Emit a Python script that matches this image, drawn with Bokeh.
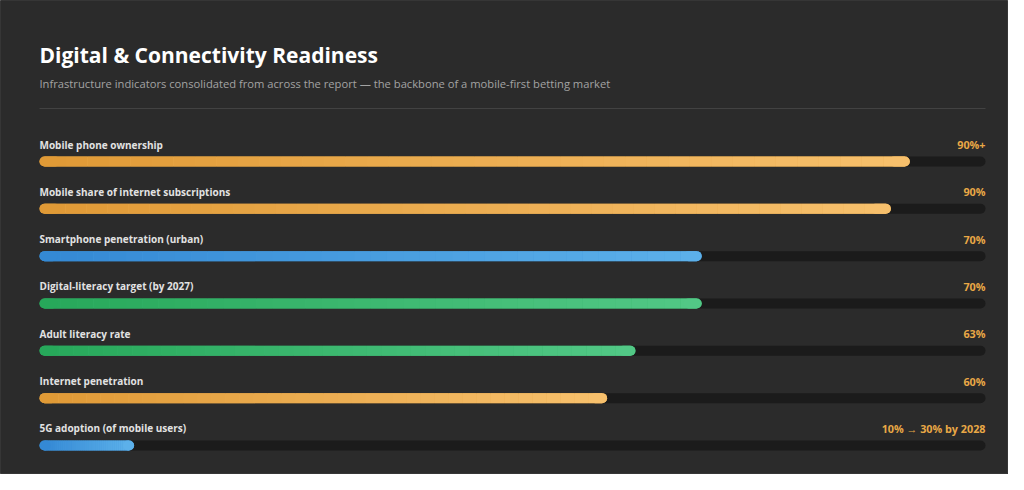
from bokeh.plotting import figure
from bokeh.models import ColumnDataSource, Range1d, Label
from bokeh.core.properties import value
from bokeh.embed import file_html
from bokeh.resources import INLINE

# ---------------- data ----------------
categories = [
    "Mobile phone ownership",
    "Mobile share of internet subscriptions",
    "Smartphone penetration (urban)",
    "Digital-literacy target (by 2027)",
    "Adult literacy rate",
    "Internet penetration",
    "5G adoption (of mobile users)",
]
values = [92, 90, 70, 70, 63, 60, 10]
value_labels = ["90%+", "90%", "70%", "70%", "63%", "60%", "10% \u2192 30% by 2028"]
groups = ["orange", "orange", "blue", "green", "green", "orange", "blue"]

title_text = "Digital & Connectivity Readiness"
subtitle_text = ("Infrastructure indicators consolidated from across the report \u2014 "
                 "the backbone of a mobile-first betting market")

# ---------------- styles ----------------
BG = "#2b2b2b"
TRACK = "#1b1b1b"
GRAD = {
    "orange": ("#e09a36", "#f7c06c"),
    "blue": ("#3489d4", "#5cb0ea"),
    "green": ("#27a85a", "#52c886"),
}
W, H = 1008, 474
LEFT_PX, RIGHT_PX = 39, 985
PX_PER_UNIT = (RIGHT_PX - LEFT_PX) / 100.0
FIRST_ROW_PX = 161
ROW_PX = 47.33
BAR_PX = 10
cap = (BAR_PX / 2) / PX_PER_UNIT


def hex2rgb(h):
    h = h.lstrip("#")
    return tuple(int(h[i:i + 2], 16) for i in (0, 2, 4))


def lerp(c0, c1, t):
    a, b = hex2rgb(c0), hex2rgb(c1)
    return "#%02x%02x%02x" % tuple(int(round(a[k] + (b[k] - a[k]) * t)) for k in range(3))


p = figure(
    width=W, height=H,
    x_range=Range1d(-LEFT_PX / PX_PER_UNIT, 100 + (W - RIGHT_PX) / PX_PER_UNIT),
    y_range=Range1d((H - FIRST_ROW_PX) / ROW_PX, -FIRST_ROW_PX / ROW_PX),
    output_backend="svg", toolbar_location=None,
    min_border=0, background_fill_color=BG, border_fill_color=BG,
    outline_line_color="#363636", outline_line_width=1,
)
p.axis.visible = False
p.grid.visible = False

rows = list(range(len(categories)))

# tracks
p.segment(x0=[cap] * len(rows), x1=[100 - cap] * len(rows), y0=rows, y1=rows,
          line_color=TRACK, line_width=BAR_PX, line_cap="round")

# gradient bars: a base bar in the mid colour, then butt-capped gradient pieces,
# then the two end caps
N = 40
bx0, bx1, by, bc = [], [], [], []
lx0, lx1, ly, lc = [], [], [], []
rx0, rx1, ry, rc = [], [], [], []
sx0, sx1, sy, sc = [], [], [], []
for i, (v, g) in enumerate(zip(values, groups)):
    c0, c1 = GRAD[g]
    start, end = cap, v - cap
    step = (end - start) / N
    bx0.append(start); bx1.append(end); by.append(i); bc.append(lerp(c0, c1, 0.5))
    lx0.append(start); lx1.append(start + step * 0.5); ly.append(i); lc.append(c0)
    rx0.append(end - step * 0.5); rx1.append(end); ry.append(i); rc.append(c1)
    for k in range(N):
        sx0.append(start + step * k)
        sx1.append(start + step * (k + 1))
        sy.append(i)
        sc.append(lerp(c0, c1, (k + 0.5) / N))

p.segment(x0="x0", x1="x1", y0="y", y1="y", line_color="c", line_width=BAR_PX,
          line_cap="round", source=ColumnDataSource(dict(x0=bx0, x1=bx1, y=by, c=bc)))
p.segment(x0="x0", x1="x1", y0="y", y1="y", line_color="c", line_width=BAR_PX,
          line_cap="butt", source=ColumnDataSource(dict(x0=sx0, x1=sx1, y=sy, c=sc)))
p.segment(x0="x0", x1="x1", y0="y", y1="y", line_color="c", line_width=BAR_PX,
          line_cap="round", source=ColumnDataSource(dict(x0=lx0, x1=lx1, y=ly, c=lc)))
p.segment(x0="x0", x1="x1", y0="y", y1="y", line_color="c", line_width=BAR_PX,
          line_cap="round", source=ColumnDataSource(dict(x0=rx0, x1=rx1, y=ry, c=rc)))

# labels
lab_off = 17 / ROW_PX
src = ColumnDataSource(dict(
    y=[r - lab_off for r in rows],
    x0=[0] * len(rows),
    x1=[100] * len(rows),
    cat=categories,
    val=value_labels,
))
p.text(x="x0", y="y", text="cat", source=src, text_font=value("Open Sans"),
       text_font_size="10px", text_font_style="bold", text_color="#e2e2e2",
       text_baseline="middle", text_align="left")
p.text(x="x1", y="y", text="val", source=src, text_font=value("Open Sans"),
       text_font_size="10.8px", text_font_style="bold", text_color="#e9a846",
       text_baseline="middle", text_align="right")

# divider
div_y = (108 - FIRST_ROW_PX) / ROW_PX
p.segment(x0=[0], x1=[100], y0=[div_y], y1=[div_y], line_color="#424242", line_width=1)

# title & subtitle
p.add_layout(Label(x=LEFT_PX, y=H - 54, x_units="screen", y_units="screen", text=title_text,
                   text_font="Open Sans", text_font_size="21px", text_font_style="bold",
                   text_color="#ffffff", text_baseline="middle"))
p.add_layout(Label(x=LEFT_PX, y=H - 83, x_units="screen", y_units="screen", text=subtitle_text,
                   text_font="Open Sans", text_font_size="11.2px",
                   text_color="#a3a3a3", text_baseline="middle"))

html = file_html(p, INLINE)
html = html.replace("<body>", '<body style="background:%s;">' % BG, 1)
open("out.html", "w").write(html)
